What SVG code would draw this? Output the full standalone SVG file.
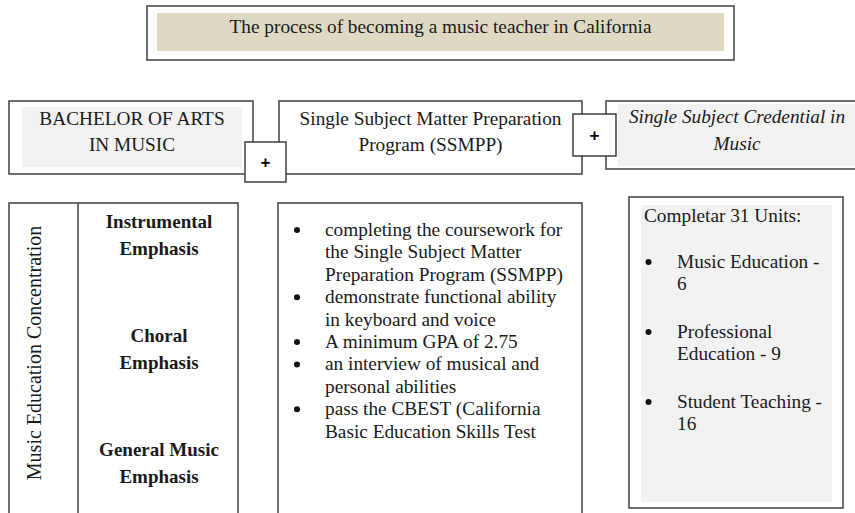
<svg xmlns="http://www.w3.org/2000/svg" width="855" height="513" viewBox="0 0 855 513">
  <style>
    .frame { fill: #ffffff; stroke: #3f3f3f; stroke-width: 1.5; }
    .tan { fill: #ddd9c3; }
    .grey { fill: #f2f2f2; }
    .t { font-family: "Liberation Serif", "Times New Roman", serif; font-size: 19.3px; fill: #1a1a1a; }
    .c { text-anchor: middle; }
    .b { font-weight: bold; font-size: 19px; }
    .i { font-style: italic; }
    .plus { font-family: "Liberation Sans", Arial, sans-serif; font-size: 17px; font-weight: bold; fill: #000; text-anchor: middle; }
    .dot { fill: #111; }
  </style>

  <rect width="855" height="513" fill="#ffffff"/>

  <!-- heading -->
  <g id="title">
    <rect class="frame" x="147" y="6" width="587" height="54"/>
    <rect class="tan" x="157" y="13" width="567" height="38"/>
    <text class="t c" x="440.5" y="33">The process of becoming a music teacher in California</text>
  </g>

  <!-- top row -->
  <g id="bachelor">
    <rect class="frame" x="9" y="101" width="244" height="73"/>
    <rect class="grey" x="22" y="107" width="220" height="60"/>
    <text class="t c" x="132" y="125">BACHELOR OF ARTS</text>
    <text class="t c" x="132" y="151">IN MUSIC</text>
  </g>

  <g id="ssmpp">
    <rect class="frame" x="279" y="101" width="303" height="73"/>
    <text class="t c" x="430.5" y="125">Single Subject Matter Preparation</text>
    <text class="t c" x="430.5" y="151">Program (SSMPP)</text>
  </g>

  <g id="credential">
    <rect class="frame" x="606" y="101" width="260" height="68"/>
    <rect class="grey" x="618" y="104" width="245" height="62"/>
    <text class="t c i" x="737" y="123">Single Subject Credential in</text>
    <text class="t c i" x="737" y="150">Music</text>
  </g>

  <!-- joins between the top-row steps -->
  <g id="joins">
    <g id="plus-1">
      <rect class="frame" x="245" y="142" width="41" height="40"/>
      <text class="plus" x="265.5" y="168">+</text>
    </g>
    <g id="plus-2">
      <rect class="frame" x="573" y="114" width="43" height="42"/>
      <text class="plus" x="594.5" y="141">+</text>
    </g>
  </g>

  <!-- bottom row -->
  <g id="concentration">
    <rect class="frame" x="9" y="203" width="229" height="320"/>
    <line x1="78" y1="203" x2="78" y2="513" stroke="#3f3f3f" stroke-width="1.5"/>
    <text class="t c" transform="translate(41 353) rotate(-90)" style="font-size:20px">Music Education Concentration</text>
    <text class="t c b" x="159" y="228">Instrumental</text>
    <text class="t c b" x="159" y="255">Emphasis</text>
    <text class="t c b" x="159" y="342">Choral</text>
    <text class="t c b" x="159" y="369">Emphasis</text>
    <text class="t c b" x="159" y="456">General Music</text>
    <text class="t c b" x="159" y="483">Emphasis</text>
  </g>

  <g id="requirements">
    <rect class="frame" x="278" y="203" width="304" height="320"/>
    <circle class="dot" cx="297" cy="230" r="3"/>
    <text class="t" x="325" y="236">completing the coursework for</text>
    <text class="t" x="325" y="258.4">the Single Subject Matter</text>
    <text class="t" x="325" y="280.8">Preparation Program (SSMPP)</text>
    <circle class="dot" cx="297" cy="297.2" r="3"/>
    <text class="t" x="325" y="303.2">demonstrate functional ability</text>
    <text class="t" x="325" y="325.6">in keyboard and voice</text>
    <circle class="dot" cx="297" cy="342" r="3"/>
    <text class="t" x="325" y="348">A minimum GPA of 2.75</text>
    <circle class="dot" cx="297" cy="364.4" r="3"/>
    <text class="t" x="325" y="370.4">an interview of musical and</text>
    <text class="t" x="325" y="392.8">personal abilities</text>
    <circle class="dot" cx="297" cy="409.2" r="3"/>
    <text class="t" x="325" y="415.2">pass the CBEST (California</text>
    <text class="t" x="325" y="437.6">Basic Education Skills Test</text>
  </g>

  <g id="units">
    <rect class="frame" x="629" y="197" width="214" height="311"/>
    <rect class="grey" x="641" y="205" width="191" height="297"/>
    <text class="t" x="644" y="222">Completar 31 Units:</text>
    <circle class="dot" cx="648.5" cy="262" r="3"/>
    <text class="t" x="677" y="268">Music Education -</text>
    <text class="t" x="677" y="290">6</text>
    <circle class="dot" cx="648.5" cy="332" r="3"/>
    <text class="t" x="677" y="338">Professional</text>
    <text class="t" x="677" y="360">Education - 9</text>
    <circle class="dot" cx="648.5" cy="402" r="3"/>
    <text class="t" x="677" y="408">Student Teaching -</text>
    <text class="t" x="677" y="430">16</text>
  </g>
</svg>
